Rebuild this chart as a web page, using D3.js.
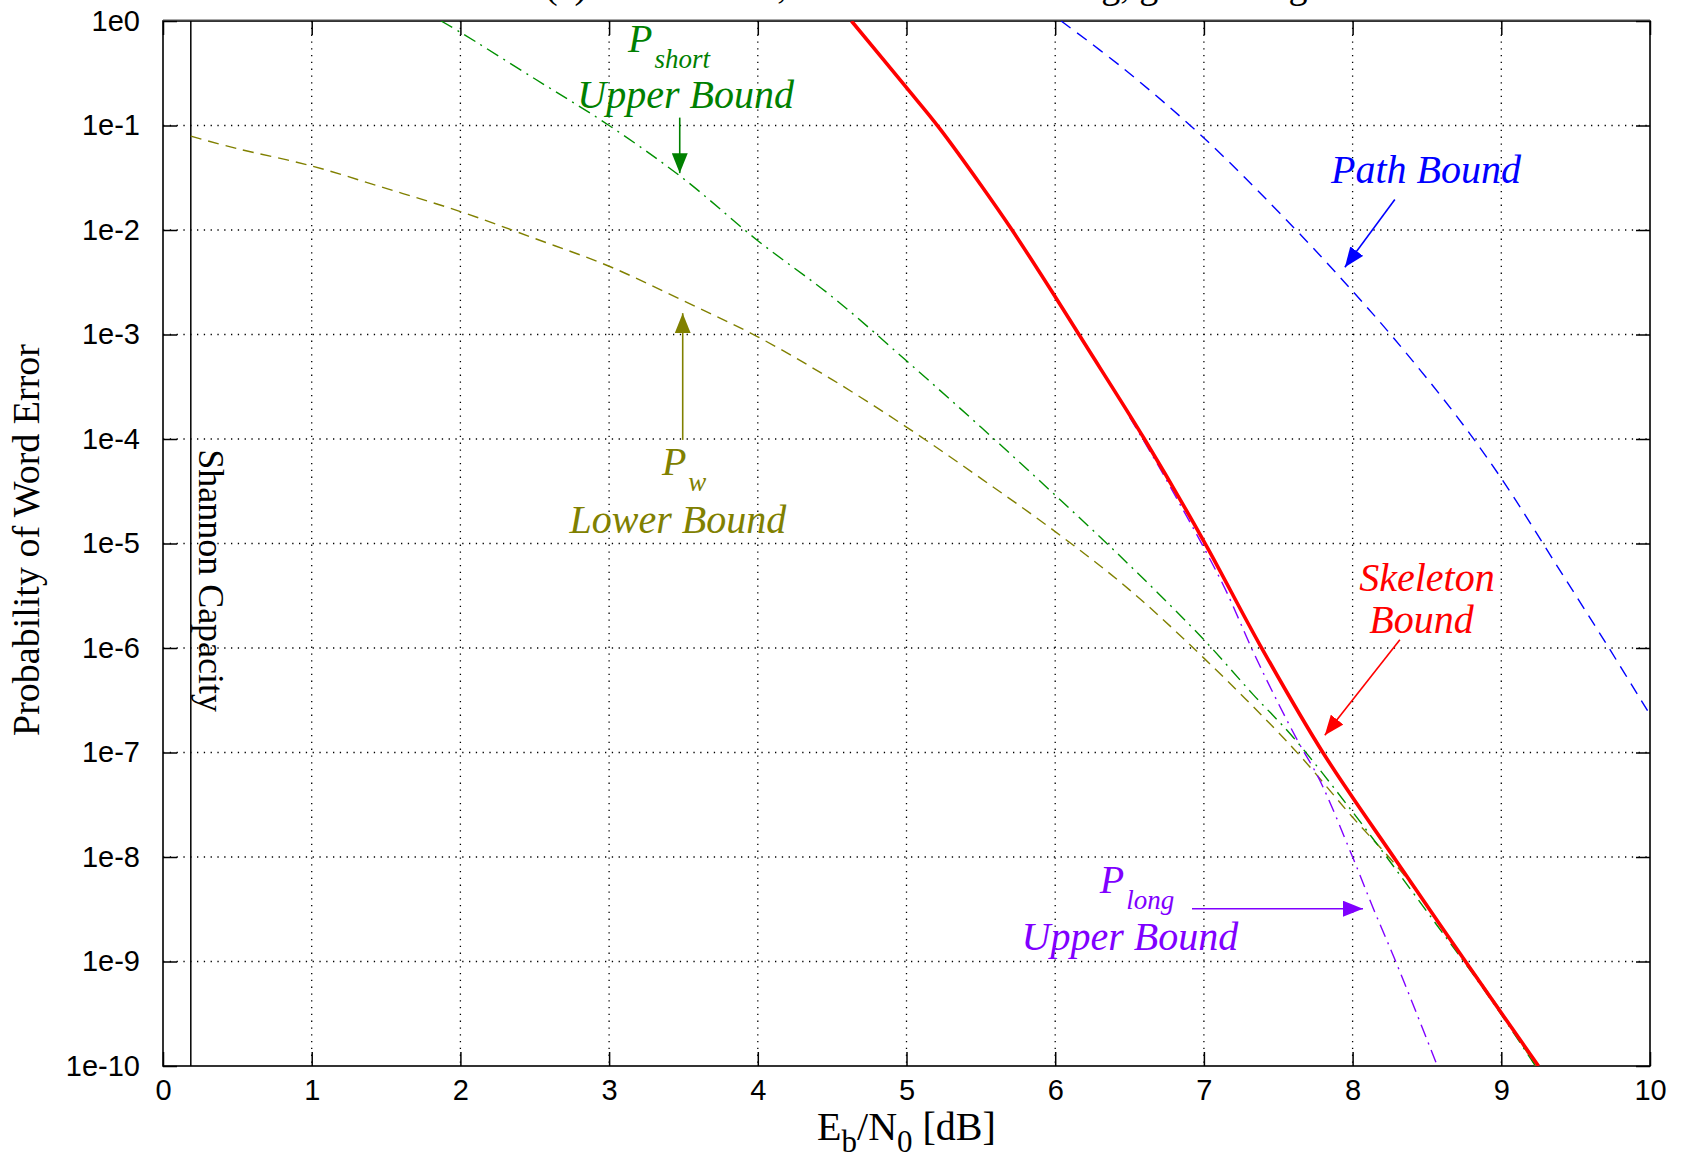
<html>
<head>
<title>Probability of Word Error</title>
<script src="https://d3js.org/d3.v7.min.js"></script>
<style>
  body { margin: 0; background: #fff; }
  .axis text { font: 29px "Liberation Sans", Arial, sans-serif; fill: #000; }
  .axis line { stroke: #000; stroke-width: 1.5; }
  .axis path { display: none; }
  .grid { stroke: #000; stroke-width: 1.3; stroke-dasharray: 1.3 5.5; }
  .serif { font-family: "Liberation Serif", "Times New Roman", serif; fill: #000; }
  .note { font-family: "Liberation Serif", "Times New Roman", serif; font-style: italic; }
</style>
</head>
<body>
<svg id="chart" width="1683" height="1162"></svg>
<script>
// ---- data ----
var xTicks = [0, 1, 2, 3, 4, 5, 6, 7, 8, 9, 10];
var yTicks = [1e0, 1e-1, 1e-2, 1e-3, 1e-4, 1e-5, 1e-6, 1e-7, 1e-8, 1e-9, 1e-10];
var yTickLabels = ["1e0", "1e-1", "1e-2", "1e-3", "1e-4", "1e-5", "1e-6", "1e-7", "1e-8", "1e-9", "1e-10"];
var shannonLimit = 0.187;

var lowerEbN0 = [0.187, 0.5, 1.0, 1.5, 2.0, 2.5, 3.0, 3.5, 4.0, 4.5, 5.0, 5.5, 6.0, 6.5, 7.0, 7.6, 8.0, 8.34, 8.66, 9.0, 9.23];
var lowerPw   = [7.9e-2, 6.0e-2, 4.1e-2, 2.5e-2, 1.5e-2, 8.3e-3, 4.5e-3, 2.1e-3, 9.5e-4, 3.7e-4, 1.3e-4, 4.2e-5, 1.3e-5, 3.6e-6, 8.0e-7, 1.1e-7, 2.4e-8, 6.9e-9, 1.6e-9, 3.3e-10, 1.0e-10];

var shortEbN0 = [1.87, 2.0, 2.5, 3.0, 3.5, 4.0, 4.5, 5.0, 5.5, 6.0, 6.5, 7.0, 7.33, 7.6, 8.0, 8.25, 8.57, 8.8, 9.0, 9.23];
var shortPw   = [1.0, 7.8e-1, 2.8e-1, 1.0e-1, 3.1e-2, 7.9e-3, 2.3e-3, 5.6e-4, 1.3e-4, 2.9e-5, 6.2e-6, 1.2e-6, 3.6e-7, 1.4e-7, 2.7e-8, 9.1e-9, 2.2e-9, 7.9e-10, 3.1e-10, 1.0e-10];

var longEbN0 = [6.5, 6.68, 6.86, 7.0, 7.15, 7.33, 7.47, 7.63, 7.78, 8.0, 8.14, 8.29, 8.43, 8.57];
var longPw   = [1.62e-4, 6.0e-5, 2.1e-5, 9.1e-6, 3.5e-6, 9.3e-7, 3.6e-7, 1.3e-7, 5.4e-8, 1.0e-8, 3.2e-9, 1.0e-9, 3.2e-10, 1.0e-10];

var pathEbN0 = [6.04, 6.46, 7.0, 7.6, 8.0, 8.28, 8.68, 9.0, 9.36, 9.72, 10.0];
var pathPw   = [1.0, 3.5e-1, 7.6e-2, 1.07e-2, 2.6e-3, 9.1e-4, 1.8e-4, 4.2e-5, 6.6e-6, 1.02e-6, 2.3e-7];

var skeletonEbN0 = [4.63, 5.0, 5.22, 5.5, 5.71, 6.0, 6.2, 6.6, 7.0, 7.38, 7.8, 8.3, 8.77, 9.25];
var skeletonPw   = [1.0, 2.3e-1, 9.5e-2, 2.7e-2, 1.0e-2, 2.3e-3, 8.1e-4, 1.0e-4, 1.05e-5, 1.05e-6, 1.0e-7, 8.9e-9, 9.5e-10, 1.0e-10];

// ---- drawing ----
var svg = d3.select("#chart");
var plotL = 163, plotR = 1650, plotT = 21, plotB = 1066;

var x = d3.scaleLinear().domain([0, 10]).range([plotL, plotR]);
var y = d3.scaleLog().domain([1e-10, 1]).range([plotB, plotT]);

svg.append("rect").attr("width", 1683).attr("height", 1162).attr("fill", "#fff");

// title, cut off at the top edge of the picture
svg.append("text").attr("class", "serif")
  .attr("x", 545).attr("y", -2)
  .style("font-size", "38px")
  .text("(c) Turbo Code, Uniform Interleaving, g = 1+D\u00b2/g");

svg.append("defs").append("clipPath").attr("id", "plot")
  .append("rect").attr("x", plotL).attr("y", plotT)
  .attr("width", plotR - plotL).attr("height", plotB - plotT);

// grid
svg.selectAll(".gx").data(xTicks.slice(1, -1)).enter().append("line")
  .attr("class", "grid")
  .attr("x1", d => x(d)).attr("x2", d => x(d))
  .attr("y1", plotT).attr("y2", plotB);
svg.selectAll(".gy").data(yTicks.slice(1, -1)).enter().append("line")
  .attr("class", "grid")
  .attr("y1", d => y(d)).attr("y2", d => y(d))
  .attr("x1", plotL).attr("x2", plotR);

// axes with inward ticks
svg.append("g").attr("class", "axis")
  .attr("transform", "translate(" + plotL + ",0)")
  .call(d3.axisLeft(y).tickValues(yTicks).tickSize(-14).tickPadding(23)
    .tickFormat((d, i) => yTickLabels[i]));
svg.append("g").attr("class", "axis")
  .attr("transform", "translate(" + plotR + ",0)")
  .call(d3.axisRight(y).tickValues(yTicks).tickSize(-14).tickFormat(""));
svg.append("g").attr("class", "axis")
  .attr("transform", "translate(0," + plotB + ")")
  .call(d3.axisBottom(x).tickValues(xTicks).tickSize(-14).tickPadding(13)
    .tickFormat(d3.format("d")));
svg.append("g").attr("class", "axis")
  .attr("transform", "translate(0," + plotT + ")")
  .call(d3.axisTop(x).tickValues(xTicks).tickSize(-14).tickFormat(""));

svg.append("rect")
  .attr("x", plotL).attr("y", plotT)
  .attr("width", plotR - plotL).attr("height", plotB - plotT)
  .attr("fill", "none").attr("stroke", "#000").attr("stroke-width", 1.6);
svg.append("line")
  .attr("x1", plotL).attr("x2", plotR).attr("y1", plotT - 1).attr("y2", plotT - 1)
  .attr("stroke", "#555").attr("stroke-width", 1.2);

// Shannon capacity
svg.append("line")
  .attr("x1", x(shannonLimit)).attr("x2", x(shannonLimit))
  .attr("y1", plotT).attr("y2", plotB)
  .attr("stroke", "#000").attr("stroke-width", 1.5);
svg.append("text").attr("class", "serif")
  .attr("transform", "translate(" + (x(shannonLimit) + 8) + "," + y(8e-5) + ") rotate(90)")
  .style("font-size", "36px")
  .text("Shannon Capacity");

// curves
var line = d3.line().x(d => x(d[0])).y(d => y(d[1])).curve(d3.curveCatmullRom.alpha(0.5));
function zip(a, b) { return a.map((v, i) => [v, b[i]]); }

var series = [
  { ebn0: pathEbN0, pw: pathPw, color: "#0000ff", width: 1.4, dash: "12 8" },
  { ebn0: lowerEbN0, pw: lowerPw, color: "#808000", width: 1.4, dash: "11 7" },
  { ebn0: shortEbN0, pw: shortPw, color: "#009000", width: 1.4, dash: "13 6 2 6" },
  { ebn0: longEbN0, pw: longPw, color: "#8000ff", width: 1.4, dash: "13 6 2 6" },
  { ebn0: skeletonEbN0, pw: skeletonPw, color: "#ff0000", width: 3.6, dash: null }
];
var curves = svg.append("g").attr("clip-path", "url(#plot)");
series.forEach(function (s) {
  curves.append("path")
    .attr("d", line(zip(s.ebn0, s.pw)))
    .attr("fill", "none")
    .attr("stroke", s.color)
    .attr("stroke-width", s.width)
    .attr("stroke-dasharray", s.dash);
});

// arrow markers
var defs = svg.select("defs");
function marker(id, color) {
  defs.append("marker").attr("id", id)
    .attr("markerUnits", "userSpaceOnUse")
    .attr("viewBox", "0 0 20 16").attr("refX", 20).attr("refY", 8)
    .attr("markerWidth", 20).attr("markerHeight", 16)
    .attr("orient", "auto")
    .append("path").attr("d", "M0,0 L20,8 L0,16 Z").attr("fill", color);
}

// annotations (positions in dB / probability)
var notes = [
  { color: "#008000", pAt: [3.127, 5.0e-1], sub: "short", lines: [["Upper Bound", 3.515, 1.46e-1]],
    arrow: [[3.475, 1.19e-1], [3.475, 3.5e-2]] },
  { color: "#808000", pAt: [3.355, 4.5e-5], sub: "w", lines: [["Lower Bound", 3.462, 1.27e-5]],
    arrow: [[3.495, 9.8e-5], [3.495, 1.6e-3]] },
  { color: "#8000ff", pAt: [6.30, 4.5e-9], sub: "long", lines: [["Upper Bound", 6.502, 1.28e-9]],
    arrow: [[6.92, 3.2e-9], [8.07, 3.2e-9]] },
  { color: "#0000ff", pAt: null, sub: null, lines: [["Path Bound", 8.494, 2.8e-2]],
    arrow: [[8.284, 1.96e-2], [7.948, 4.4e-3]] },
  { color: "#ff0000", pAt: null, sub: null, lines: [["Skeleton", 8.50, 3.5e-6], ["Bound", 8.463, 1.4e-6]],
    arrow: [[8.318, 1.2e-6], [7.813, 1.46e-7]] }
];

notes.forEach(function (n, k) {
  var id = "arrow" + k;
  marker(id, n.color);
  svg.append("line")
    .attr("x1", x(n.arrow[0][0])).attr("y1", y(n.arrow[0][1]))
    .attr("x2", x(n.arrow[1][0])).attr("y2", y(n.arrow[1][1]))
    .attr("stroke", n.color).attr("stroke-width", 1.6)
    .attr("marker-end", "url(#" + id + ")");
  if (n.pAt) {
    var t = svg.append("text").attr("class", "note")
      .attr("x", x(n.pAt[0])).attr("y", y(n.pAt[1]))
      .attr("fill", n.color);
    t.append("tspan").style("font-size", "40px").text("P");
    t.append("tspan").attr("dx", 2).attr("dy", 16).style("font-size", "27px").text(n.sub);
  }
  n.lines.forEach(function (l) {
    svg.append("text").attr("class", "note")
      .attr("x", x(l[1])).attr("y", y(l[2]))
      .attr("text-anchor", "middle")
      .attr("fill", n.color)
      .style("font-size", "40px")
      .text(l[0]);
  });
});

// axis titles
svg.append("text").attr("class", "serif")
  .attr("transform", "translate(39,540) rotate(-90)")
  .attr("text-anchor", "middle")
  .style("font-size", "38px")
  .text("Probability of Word Error");

var xl = svg.append("text").attr("class", "serif")
  .attr("x", (plotL + plotR) / 2).attr("y", 1140)
  .attr("text-anchor", "middle")
  .style("font-size", "40px");
xl.append("tspan").text("E");
xl.append("tspan").attr("dy", 12).style("font-size", "31px").text("b");
xl.append("tspan").attr("dy", -12).text("/N");
xl.append("tspan").attr("dy", 12).style("font-size", "31px").text("0");
xl.append("tspan").attr("dy", -12).text(" [dB]");
</script>
</body>
</html>
